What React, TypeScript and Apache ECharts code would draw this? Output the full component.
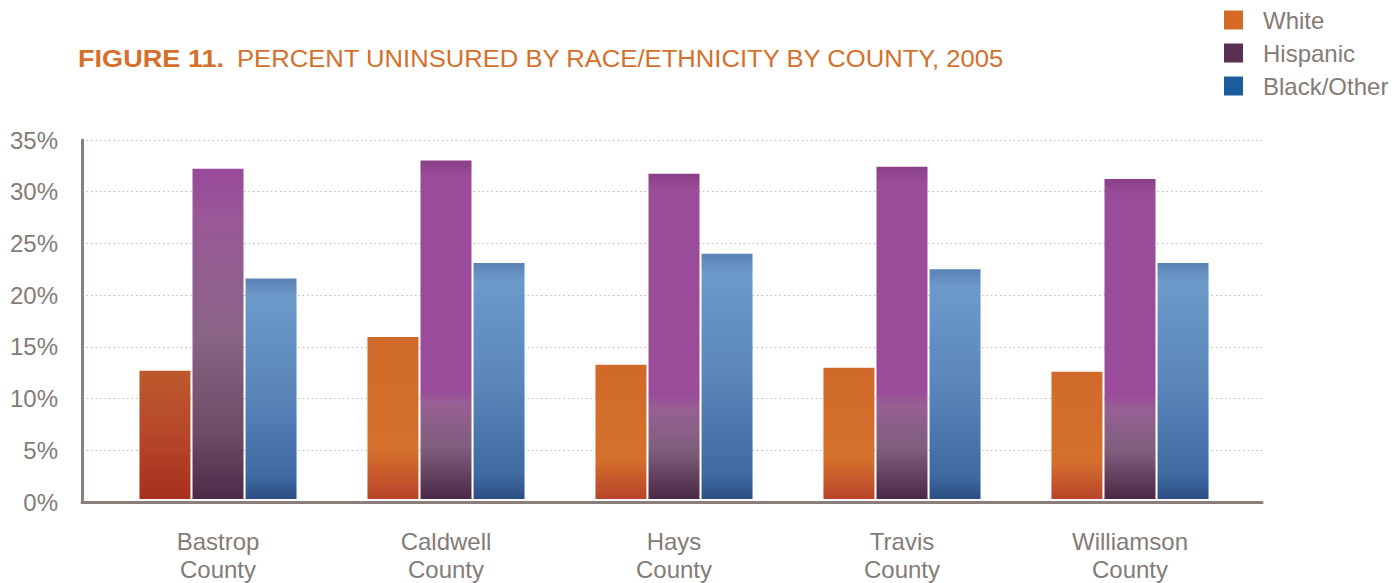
import React, { useEffect, useRef } from "react";
import * as echarts from "echarts";

const counties = ["Bastrop\nCounty", "Caldwell\nCounty", "Hays\nCounty", "Travis\nCounty", "Williamson\nCounty"];
const whiteVals = [12.5, 15.8, 13.1, 12.8, 12.4];
const hispanicVals = [32.2, 33.0, 31.7, 32.4, 31.2];
const blackVals = [21.5, 23.0, 23.9, 22.4, 23.0];
const yTicks = [0, 5, 10, 15, 20, 25, 30, 35];
const titleLead = "FIGURE 11.";
const titleRest = "PERCENT UNINSURED BY RACE/ETHNICITY BY COUNTY, 2005";

const FONT = "'Liberation Sans', Arial, Helvetica, sans-serif";
const GREY = "#857b76";
const ORANGE = "#d4702c";

const lg = (stops: [number, string][]) =>
  new echarts.graphic.LinearGradient(0, 0, 0, 1, stops.map(([offset, color]) => ({ offset, color })));

const whiteColor = (i: number) =>
  i === 0
    ? lg([[0, "#bd5a2c"], [0.5, "#b6472a"], [1, "#a8301d"]])
    : lg([[0, "#d06a2a"], [0.7, "#d4702c"], [1, "#b8442a"]]);
const hispColor = (i: number) =>
  i === 0
    ? lg([[0, "#97499a"], [0.15, "#995896"], [0.5, "#8a6486"], [0.8, "#6c4c66"], [1, "#4c2a48"]])
    : lg([[0, "#8a3f88"], [0.05, "#9a4c9a"], [0.68, "#9a4c9a"], [0.72, "#976093"], [0.85, "#7e5e7c"], [1, "#4a2846"]]);
const blackColor = () => lg([[0, "#5a82b4"], [0.08, "#6c9acb"], [0.5, "#5a86ba"], [0.9, "#3e6aa0"], [1, "#2c4e84"]]);

export default function App() {
  const ref = useRef<HTMLDivElement>(null);
  useEffect(() => {
    if (!ref.current) return;
    const chart = echarts.init(ref.current, undefined, { renderer: "svg" });
    const barBase = { type: "bar" as const, xAxisIndex: 1, yAxisIndex: 1, barWidth: 51, barGap: "4%" };
    chart.setOption({
      animation: false,
      backgroundColor: "#fff",
      graphic: [
        {
          type: "text",
          x: 78,
          y: 59,
          scaleX: 1.13,
          style: {
            text: titleLead,
            fill: ORANGE,
            font: `bold 24px ${FONT}`,
            verticalAlign: "middle",
          },
        },
        {
          type: "text",
          x: 237,
          y: 59,
          scaleX: 1.068,
          style: {
            text: titleRest,
            fill: ORANGE,
            font: `24px ${FONT}`,
            verticalAlign: "middle",
          },
        },
      ],
      legend: {
        orient: "vertical",
        left: 1219,
        top: 3,
        itemWidth: 19,
        itemHeight: 19,
        itemGap: 9,
        icon: "rect",
        textStyle: { fontFamily: FONT, fontSize: 24, color: GREY, padding: [0, 0, 0, 15] },
        data: [
          { name: "White", itemStyle: { color: "#d56b27" } },
          { name: "Hispanic", itemStyle: { color: "#5a3152" } },
          { name: "Black/Other", itemStyle: { color: "#1d5c9c" } },
        ],
      },
      grid: [
        { left: 82, right: 132, top: 140, bottom: 81 },
        { left: 104, right: 150, top: 140, bottom: 81 },
      ],
      xAxis: [
        {
          type: "value",
          gridIndex: 0,
          min: 0,
          max: 1,
          axisLine: { show: true, lineStyle: { color: "#8a7f7a", width: 3 } },
          axisTick: { show: false },
          axisLabel: { show: false },
          splitLine: { show: false },
        },
        {
          type: "category",
          gridIndex: 1,
          data: counties,
          axisLine: { show: false },
          axisTick: { show: false },
          axisLabel: { fontFamily: FONT, fontSize: 24, color: GREY, lineHeight: 28, margin: 28 },
        },
      ],
      yAxis: [
        {
          type: "value",
          gridIndex: 0,
          min: yTicks[0],
          max: yTicks[yTicks.length - 1],
          interval: 5,
          axisLine: { show: true, lineStyle: { color: "#8a7f7a", width: 3 } },
          axisTick: { show: false },
          axisLabel: { formatter: "{value}%", fontFamily: FONT, fontSize: 24, color: GREY, margin: 24 },
          splitLine: { show: true, lineStyle: { type: [1.5, 3], color: "#c8b6aa", width: 1 } },
        },
        {
          type: "value",
          gridIndex: 1,
          min: 0,
          max: 35,
          show: false,
          splitLine: { show: false },
        },
      ],
      series: [
        { ...barBase, name: "White", data: whiteVals.map((v, i) => ({ value: v, itemStyle: { color: whiteColor(i) } })) },
        { ...barBase, name: "Hispanic", data: hispanicVals.map((v, i) => ({ value: v, itemStyle: { color: hispColor(i) } })) },
        { ...barBase, name: "Black/Other", data: blackVals.map((v) => ({ value: v, itemStyle: { color: blackColor() } })) },
      ],
    });
    return () => chart.dispose();
  }, []);
  return <div ref={ref} style={{ position: "fixed", left: 0, top: 0, width: 1394, height: 583 }} />;
}
